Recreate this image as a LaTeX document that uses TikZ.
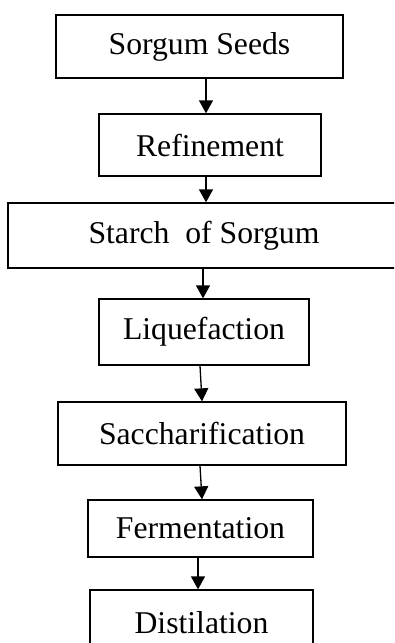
\documentclass[tikz,border=0pt]{standalone}
\usepackage{fontspec}
\setmainfont{Liberation Serif}
\usetikzlibrary{arrows.meta}
\begin{document}
\begin{tikzpicture}[x=1pt,y=-1pt,
  stepbox/.style={draw,line width=1.3pt,inner sep=0pt,font=\fontsize{31.7}{38}\selectfont},
  arr/.style={line width=1.3pt,-{Triangle[length=13pt,width=14pt]}}]
\useasboundingbox (0,0) rectangle (394,643);
\clip (0,0) rectangle (394,643);
\node[stepbox,minimum width=287pt,minimum height=63pt] (a) at (199.5,46.5) {Sorgum Seeds};
\node[stepbox,minimum width=222pt,minimum height=62pt] (b) at (210,145) {Refinement};
\node[stepbox,minimum width=392pt,minimum height=65pt] (c) at (204,235.5) {Starch\ \ of Sorgum};
\node[stepbox,minimum width=210pt,minimum height=66pt] (d) at (204,332) {Liquefaction};
\node[stepbox,minimum width=288pt,minimum height=63pt] (e) at (202,433.5) {Saccharification};
\node[stepbox,minimum width=225pt,minimum height=57pt] (f) at (200.5,528.5) {Fermentation};
\node[stepbox,minimum width=223pt,minimum height=65pt] (g) at (201.5,622.5) {Distilation};
\draw[arr] ([xshift=6.5pt]a.south) -- ([xshift=-4pt]b.north);
\draw[arr] ([xshift=-4pt]b.south) -- ([xshift=2pt]c.north);
\draw[arr] ([xshift=-1pt]c.south) -- ([xshift=-1pt]d.north);
\draw[arr] ([xshift=-4pt]d.south) -- ([xshift=0pt]e.north);
\draw[arr] ([xshift=-2pt]e.south) -- ([xshift=1.5pt]f.north);
\draw[arr] ([xshift=-2.5pt]f.south) -- ([xshift=-3.5pt]g.north);
\end{tikzpicture}
\end{document}
